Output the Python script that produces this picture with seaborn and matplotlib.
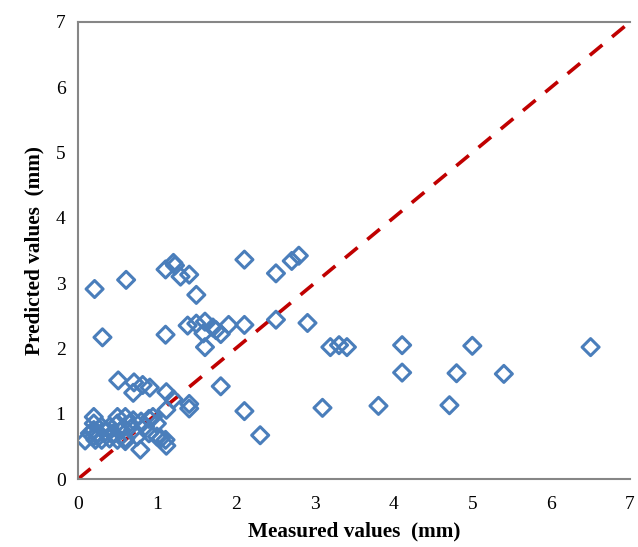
import matplotlib
matplotlib.use("Agg")
import matplotlib.pyplot as plt
import seaborn as sns
import pandas as pd

# Measured vs predicted values (mm)
measured = [
    0.21, 0.31, 0.61, 1.11, 1.21, 1.23, 1.30, 1.41, 1.50, 1.11,
    1.39, 1.50, 1.61, 1.59, 1.71, 1.75, 1.81, 1.91, 2.11, 1.61,
    2.11, 2.51, 2.71, 2.80, 2.51, 2.91, 3.20, 3.31, 3.41, 4.11,
    5.00, 6.50, 4.11, 4.80, 5.40, 3.10, 3.81, 4.71, 1.81, 2.11,
    2.31, 1.41, 1.41,
    0.51, 0.71, 0.70, 0.82, 0.91, 1.12, 1.21, 1.12,
    0.20, 0.09, 0.79, 1.12, 1.11, 1.00, 0.90, 0.20, 0.20, 0.20,
    0.25, 0.30, 0.30, 0.35, 0.40, 0.40, 0.45, 0.50, 0.50, 0.50,
    0.55, 0.60, 0.60, 0.65, 0.70, 0.70, 0.75, 0.80, 0.85, 0.90,
    1.00, 0.95, 1.05, 0.15, 0.22, 0.60,
]
predicted = [
    2.91, 2.17, 3.05, 3.21, 3.31, 3.27, 3.10, 3.13, 2.82, 2.21,
    2.35, 2.38, 2.41, 2.23, 2.32, 2.28, 2.22, 2.36, 2.36, 2.02,
    3.36, 3.15, 3.34, 3.42, 2.44, 2.39, 2.02, 2.05, 2.02, 2.05,
    2.04, 2.02, 1.63, 1.62, 1.61, 1.09, 1.12, 1.13, 1.42, 1.04,
    0.67, 1.15, 1.08,
    1.51, 1.48, 1.32, 1.44, 1.40, 1.33, 1.22, 1.06,
    0.95, 0.59, 0.45, 0.51, 0.60, 0.65, 0.92, 0.85, 0.75, 0.65,
    0.70, 0.80, 0.60, 0.72, 0.62, 0.80, 0.70, 0.95, 0.85, 0.60,
    0.75, 0.95, 0.62, 0.85, 0.75, 0.90, 0.65, 0.88, 0.80, 0.70,
    0.85, 0.95, 0.62, 0.70, 0.60, 0.58,
]
line_x = [0, 7]
line_y = [0, 7]
ticks = [0, 1, 2, 3, 4, 5, 6, 7]

df = pd.DataFrame({"measured": measured, "predicted": predicted})

sns.set_style("white")
plt.rcParams["font.family"] = ["Liberation Serif", "DejaVu Serif"]

fig = plt.figure(figsize=(6.38, 5.47), dpi=100)
ax = fig.add_axes([0.1223, 0.1243, 0.8652, 0.8355])

sns.lineplot(x=line_x, y=line_y, ax=ax, color="#C00000", linewidth=2.6,
             dashes=False, linestyle=(0, (4.5, 3.5)), zorder=1)
sns.scatterplot(data=df, x="measured", y="predicted", ax=ax, marker="D",
                s=75, facecolor="none", edgecolor="#4A7EBB", linewidth=2.2,
                zorder=2)

ax.set_xlim(0, 7)
ax.set_ylim(0, 7)
ax.set_xticks(ticks)
ax.set_yticks(ticks)
ax.tick_params(axis="both", which="major", direction="out", length=5,
               width=1.2, color="#868686", labelsize=14, labelcolor="black")
ax.tick_params(axis="x", pad=7)
ax.tick_params(axis="y", pad=4)

ax.spines["right"].set_visible(False)
for side in ("left", "bottom", "top"):
    ax.spines[side].set_color("#868686")
    ax.spines[side].set_linewidth(1.5)

ax.set_xlabel("Measured values  (mm)", fontsize=15.3, fontweight="bold",
              color="black", labelpad=6)
ax.set_ylabel("Predicted values  (mm)", fontsize=15.3, fontweight="bold",
              color="black", labelpad=8)
ax.grid(False)

fig.savefig("out.png", dpi=100)
